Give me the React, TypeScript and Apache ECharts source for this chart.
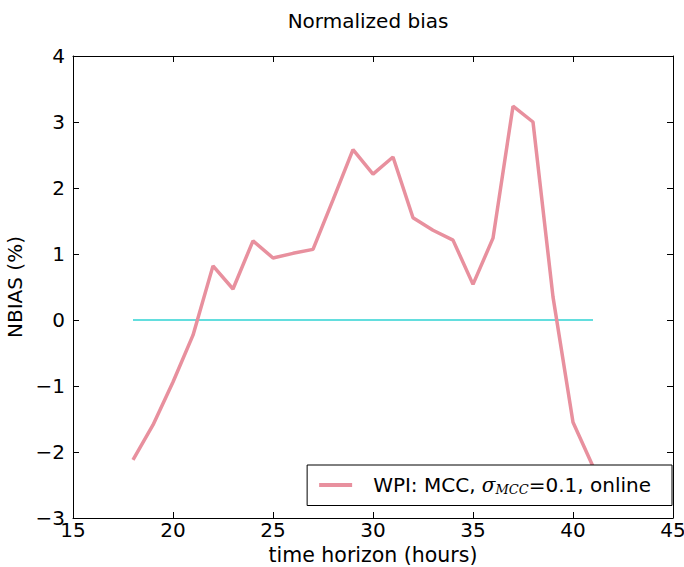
import React, { useEffect, useRef } from "react";
import * as echarts from "echarts";

const hours = [18, 19, 20, 21, 22, 23, 24, 25, 26, 27, 28, 29, 30, 31, 32, 33, 34, 35, 36, 37, 38, 39, 40, 41];
const nbias = [-2.12, -1.59, -0.94, -0.23, 0.82, 0.47, 1.2, 0.94, 1.01, 1.07, 1.82, 2.58, 2.21, 2.47, 1.55, 1.36, 1.21, 0.54, 1.24, 3.24, 3.0, 0.35, -1.55, -2.22];
const zeroLineX = [18, 41];
const zeroLineY = [0, 0];
const xTicks = { min: 15, max: 45, interval: 5 };
const yTicks = { min: -3, max: 4, interval: 1 };
const seriesName = "WPI: MCC, sigma=0.1, online";

const FONT = "DejaVu Sans";

export default function App() {
  const ref = useRef<HTMLDivElement>(null);
  useEffect(() => {
    if (!ref.current) return;
    const chart = echarts.init(ref.current, undefined, { renderer: "svg" });
    const fmt = (v: number) => (v < 0 ? "\u2212" + Math.abs(v) : String(v));
    const axisCommon = {
      axisLine: { show: true, onZero: false, lineStyle: { color: "#000", width: 1 } },
      axisTick: { show: true, inside: true, length: 6, lineStyle: { color: "#000" } },
      splitLine: { show: false },
    };
    chart.setOption({
      animation: false,
      backgroundColor: "#fff",
      title: {
        text: "Normalized bias",
        left: 363,
        top: 6,
        textAlign: "center",
        textStyle: { fontFamily: FONT, fontWeight: "normal", fontSize: 20, color: "#000" },
      },
      grid: { left: 73, right: 11, top: 56, bottom: 49, outerBoundsMode: "none", containLabel: false },
      xAxis: [
        {
          type: "value",
          ...xTicks,
          position: "bottom",
          ...axisCommon,
          axisLabel: { fontFamily: FONT, fontSize: 20, color: "#000", margin: 2 },
          name: "time horizon (hours)",
          nameLocation: "middle",
          nameGap: 25,
          nameTextStyle: { fontFamily: FONT, fontSize: 20.5, color: "#000", verticalAlign: "top" },
        },
        {
          type: "value",
          ...xTicks,
          position: "top",
          ...axisCommon,
          axisLabel: { show: false },
        },
      ],
      yAxis: [
        {
          type: "value",
          ...yTicks,
          position: "left",
          ...axisCommon,
          axisLabel: { fontFamily: FONT, fontSize: 20, color: "#000", margin: 8, formatter: fmt },
          name: "NBIAS (%)",
          nameLocation: "middle",
          nameGap: 38,
          nameTextStyle: { fontFamily: FONT, fontSize: 20, color: "#000" },
        },
        {
          type: "value",
          ...yTicks,
          position: "right",
          ...axisCommon,
          axisLabel: { show: false },
        },
      ],
      legend: {
        right: 12,
        top: 465,
        data: [{ name: seriesName, icon: "rect" }],
        itemWidth: 33,
        itemHeight: 4,
        itemGap: 10,
        padding: [10, 21, 10, 12],
        borderColor: "#000",
        borderWidth: 1,
        borderRadius: 0,
        backgroundColor: "#fff",
        formatter: () => "WPI: MCC, {s|\u03c3}{sub|MCC}=0.1, online",
        textStyle: {
          fontFamily: FONT,
          fontSize: 20,
          color: "#000",
          padding: [0, 0, 0, 16],
          rich: {
            s: { fontFamily: "DejaVu Serif", fontStyle: "italic", fontSize: 20, color: "#000" },
            sub: {
              fontFamily: "DejaVu Serif",
              fontStyle: "italic",
              fontSize: 13,
              color: "#000",
              padding: [8, 0, 0, 0],
            },
          },
        },
      },
      series: [
        {
          name: seriesName,
          type: "line",
          data: hours.map((h, i) => [h, nbias[i]]),
          showSymbol: false,
          symbol: "none",
          color: "#e8909e",
          lineStyle: { color: "#e8909e", width: 3.5 },
          z: 3,
        },
        {
          name: "zero",
          type: "line",
          data: zeroLineX.map((x, i) => [x, zeroLineY[i]]),
          showSymbol: false,
          symbol: "none",
          color: "#2fd3d3",
          lineStyle: { color: "#2fd3d3", width: 1.5 },
          z: 2,
        },
      ],
    });
    return () => chart.dispose();
  }, []);
  return <div ref={ref} style={{ width: 684, height: 567, position: "absolute", left: 0, top: 0 }} />;
}
